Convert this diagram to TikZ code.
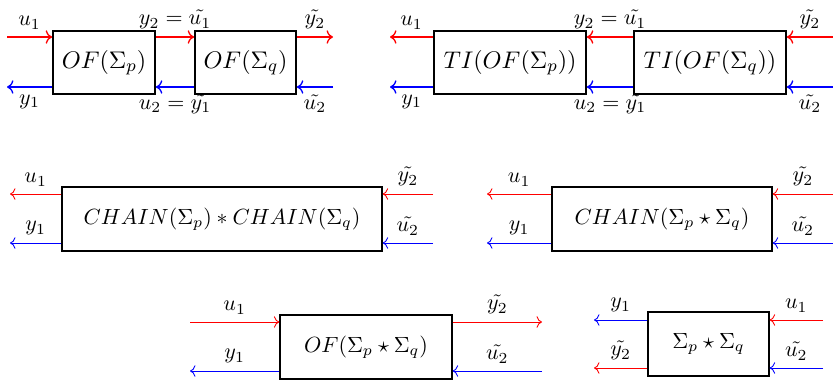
\documentclass[tikz,border=0pt]{standalone}
\usepackage{amsmath, amssymb}
\usepackage{tikz}
\usetikzlibrary{arrows.meta,positioning,calc}
\tikzset{
  sysbox/.style={draw, semithick, minimum width=#1,
                 minimum height=1.024cm, inner sep=2pt},
  sysbox/.default=2.4cm,
  topbox/.style={sysbox=#1, line width=0.8pt,
                 minimum height=1.008cm, font=\fontsize{11.3}{13}\selectfont},
  rsig/.style  ={->, thin, red, nodes={text=black}},
  bsig/.style  ={->, thin, blue, nodes={text=black}},
  rtop/.style  ={->, line width=0.6pt, red, nodes={text=black}},
  btop/.style  ={->, line width=0.6pt, blue, nodes={text=black}},
}

\begin{document}
\begin{tikzpicture}

\useasboundingbox (0,0) rectangle (13.328,-6.096);

% top left: OF cascade
\node[topbox=1.632cm] (ofp) at (1.664,-1.0) {$OF(\Sigma_p)$};
\node[topbox=1.616cm] (ofq) at (3.928,-1.0) {$OF(\Sigma_q)$};

\coordinate (a-u1) at (0.112,-0.592);
\coordinate (a-y1) at (0.112,-1.392);
\coordinate (a-y2) at (5.328,-0.592);
\coordinate (a-u2) at (5.328,-1.392);

\draw[rtop] (a-u1) -- node[above] {$u_1$} (a-u1 -| ofp.west);
\draw[rtop] (a-u1 -| ofp.east) -- node[above] {$y_2 = \tilde{u_1}$} (a-u1 -| ofq.west);
\draw[rtop] (a-u1 -| ofq.east) -- node[above] {$\tilde{y_2}$} (a-y2);
\draw[btop] (a-y1 -| ofp.west) -- node[below] {$y_1$} (a-y1);
\draw[btop] (a-y1 -| ofq.west) -- node[below] {$u_2 = \tilde{y_1}$} (a-y1 -| ofp.east);
\draw[btop] (a-u2) -- node[below] {$\tilde{u_2}$} (a-y1 -| ofq.east);

% top right: TI cascade
\node[topbox=2.432cm] (tip) at (8.16,-1.0)  {$TI(OF(\Sigma_p))$};
\node[topbox=2.432cm] (tiq) at (11.36,-1.0) {$TI(OF(\Sigma_q))$};

\coordinate (b-u1) at (6.24,-0.592);
\coordinate (b-y1) at (6.24,-1.392);
\coordinate (b-y2) at (13.328,-0.592);
\coordinate (b-u2) at (13.328,-1.392);

\draw[rtop] (b-u1 -| tip.west) -- node[above] {$u_1$} (b-u1);
\draw[rtop] (b-u1 -| tiq.west) -- node[above] {$y_2 = \tilde{u_1}$} (b-u1 -| tip.east);
\draw[rtop] (b-y2) -- node[above] {$\tilde{y_2}$} (b-u1 -| tiq.east);
\draw[btop] (b-y1 -| tip.west) -- node[below] {$y_1$} (b-y1);
\draw[btop] (b-y1 -| tiq.west) -- node[below] {$u_2 = \tilde{y_1}$} (b-y1 -| tip.east);
\draw[btop] (b-u2) -- node[below] {$\tilde{u_2}$} (b-y1 -| tiq.east);

% middle left: product of chains
\node[sysbox=5.12cm] (chpq) at (3.552,-3.504)
  {$CHAIN(\Sigma_p) * CHAIN(\Sigma_q)$};

\coordinate (c-u1) at (0.16,-3.104);
\coordinate (c-y1) at (0.16,-3.888);
\coordinate (c-y2) at (6.928,-3.104);
\coordinate (c-u2) at (6.928,-3.888);

\draw[rsig] (c-u1 -| chpq.west) -- node[above] {$u_1$} (c-u1);
\draw[bsig] (c-y1 -| chpq.west) -- node[above] {$y_1$} (c-y1);
\draw[rsig] (c-y2) -- node[above] {$\tilde{y_2}$} (c-y2 -| chpq.east);
\draw[bsig] (c-u2) -- node[above] {$\tilde{u_2}$} (c-u2 -| chpq.east);

% middle right: chain of star product
\node[sysbox=3.52cm] (chst) at (10.592,-3.504)
  {$CHAIN(\Sigma_p \star \Sigma_q)$};

\coordinate (d-u1) at (7.792,-3.104);
\coordinate (d-y1) at (7.792,-3.888);
\coordinate (d-y2) at (13.328,-3.104);
\coordinate (d-u2) at (13.328,-3.888);

\draw[rsig] (d-u1 -| chst.west) -- node[above] {$u_1$} (d-u1);
\draw[bsig] (d-y1 -| chst.west) -- node[above] {$y_1$} (d-y1);
\draw[rsig] (d-y2) -- node[above] {$\tilde{y_2}$} (d-y2 -| chst.east);
\draw[bsig] (d-u2) -- node[above] {$\tilde{u_2}$} (d-u2 -| chst.east);

% bottom left: OF of star product
\node[sysbox=2.752cm] (ofst) at (5.856,-5.552)
  {$OF(\Sigma_p \star \Sigma_q)$};

\coordinate (e-u1) at (3.04,-5.152);
\coordinate (e-y1) at (3.04,-5.936);
\coordinate (e-y2) at (8.672,-5.152);
\coordinate (e-u2) at (8.672,-5.936);

\draw[rsig] (e-u1) -- node[above] {$u_1$} (e-u1 -| ofst.west);
\draw[bsig] (e-y1 -| ofst.west) -- node[above] {$y_1$} (e-y1);
\draw[rsig] (e-y2 -| ofst.east) -- node[above] {$\tilde{y_2}$} (e-y2);
\draw[bsig] (e-u2) -- node[above] {$\tilde{u_2}$} (e-u2 -| ofst.east);

% bottom right: star product
\node[sysbox=1.936cm] (star) at (11.336,-5.504)
  {$\Sigma_p \star \Sigma_q$};

\coordinate (f-y1) at (9.504,-5.12);
\coordinate (f-y2) at (9.504,-5.888);
\coordinate (f-u1) at (13.168,-5.12);
\coordinate (f-u2) at (13.168,-5.888);

\draw[bsig] (f-y1 -| star.west) -- node[above] {$y_1$} (f-y1);
\draw[rsig] (f-y2 -| star.west) -- node[above] {$\tilde{y_2}$} (f-y2);
\draw[rsig] (f-u1) -- node[above] {$u_1$} (f-u1 -| star.east);
\draw[bsig] (f-u2) -- node[above] {$\tilde{u_2}$} (f-u2 -| star.east);

\end{tikzpicture}
\end{document}
